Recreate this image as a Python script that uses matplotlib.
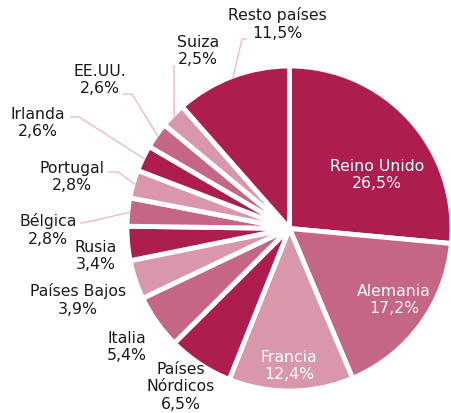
import numpy as np
import matplotlib
matplotlib.use("Agg")
import matplotlib.pyplot as plt

categories = ["Reino Unido", "Alemania", "Francia", "Países\nNórdicos", "Italia",
              "Países Bajos", "Rusia", "Bélgica", "Portugal", "Irlanda",
              "EE.UU.", "Suiza", "Resto países"]
values = [26.5, 17.2, 12.4, 6.5, 5.4, 3.9, 3.4, 2.8, 2.8, 2.6, 2.6, 2.5, 11.5]
labels_pct = ["26,5%", "17,2%", "12,4%", "6,5%", "5,4%", "3,9%", "3,4%", "2,8%",
              "2,8%", "2,6%", "2,6%", "2,5%", "11,5%"]

DARK, MED, LIGHT = "#AD1D4E", "#C56683", "#D898AA"
colors = [DARK, MED, LIGHT, DARK, MED, LIGHT, DARK, MED, LIGHT, DARK, MED, LIGHT, DARK]

W, H = 452, 414
fig = plt.figure(figsize=(W / 100, H / 100), dpi=100)
ax = fig.add_axes([0, 0, 1, 1])

cx, cy, R = 289.5, H - 229.5, 162.5
wedges, _ = ax.pie(values, colors=colors, startangle=90, counterclock=False,
                   center=(cx, cy), radius=R, frame=True,
                   wedgeprops=dict(edgecolor="white", linewidth=3.5))
ax.set_xlim(0, W)
ax.set_ylim(0, H)
ax.set_aspect("equal")
ax.axis("off")

# label positions in pixel coords (x, y from top); inside labels white
label_pos = {
    "Reino Unido": (377, 175, "white"),
    "Alemania": (394, 300, "white"),
    "Francia": (289, 366, "white"),
    "Países\nNórdicos": (181, 387, "#1a1a1a"),
    "Italia": (127, 347, "#1a1a1a"),
    "Países Bajos": (78, 300, "#1a1a1a"),
    "Rusia": (96, 256, "#1a1a1a"),
    "Bélgica": (48, 230, "#1a1a1a"),
    "Portugal": (72, 177, "#1a1a1a"),
    "Irlanda": (38, 123, "#1a1a1a"),
    "EE.UU.": (100, 80, "#1a1a1a"),
    "Suiza": (198, 51, "#1a1a1a"),
    "Resto países": (277, 24, "#1a1a1a"),
}
# leader lines: elbow and end points (pixel coords)
leaders = {
    "Resto países": [(242, 40), (247, 40)],
    "Suiza": [(174, 66)],
    "EE.UU.": [(132, 95), (123, 95)],
    "Irlanda": [(79, 118), (70, 118)],
    "Portugal": [(118, 173), (108, 173)],
    "Bélgica": [(88, 223), (80, 224)],
}

for w, cat, pct in zip(wedges, categories, labels_pct):
    tx, ty, col = label_pos[cat]
    ax.text(tx, H - ty, f"{cat}\n{pct}", ha="center", va="center", fontsize=11.3,
            color=col, linespacing=1.2, family="DejaVu Sans")
    if cat in leaders:
        ang = np.deg2rad((w.theta1 + w.theta2) / 2)
        pts = [(cx + (R - 2) * np.cos(ang), cy + (R - 2) * np.sin(ang))]
        pts += [(px, H - py) for px, py in leaders[cat]]
        xs, ys = zip(*pts)
        ax.plot(xs, ys, color="#EBBBC9", lw=1.0, solid_capstyle="butt")

fig.savefig("out.png", dpi=100)
